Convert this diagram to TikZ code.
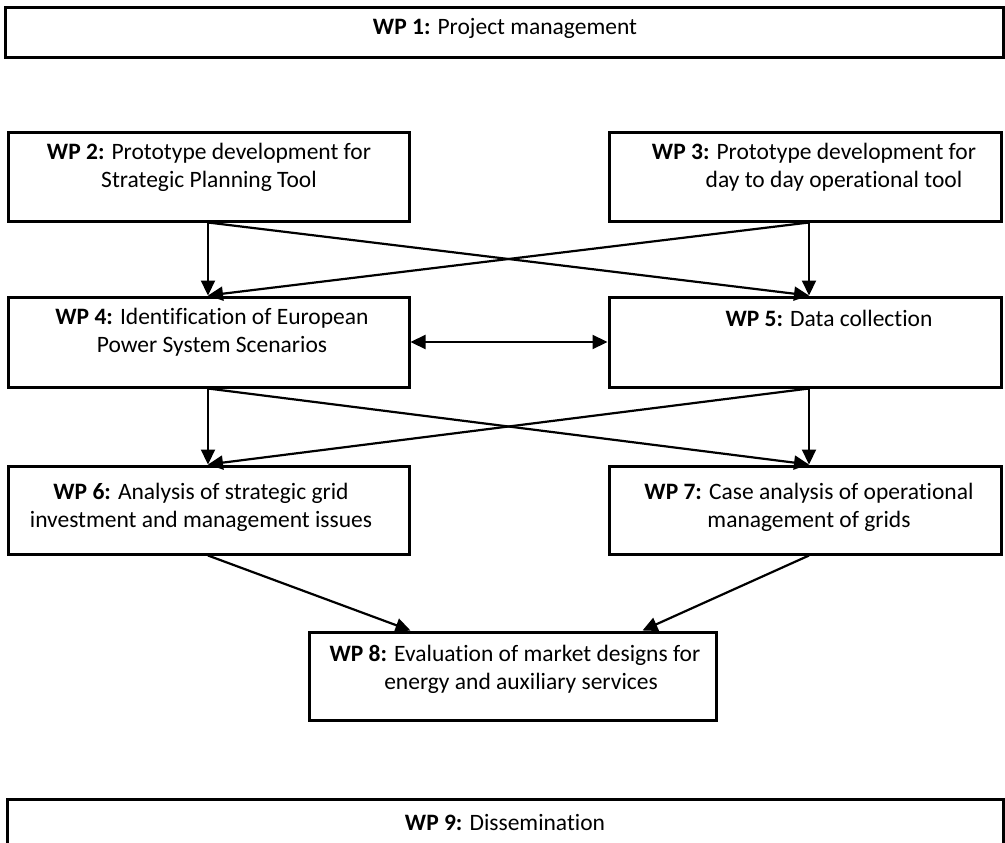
\documentclass[tikz,border=0pt]{standalone}
\usepackage{fontspec}
\setmainfont{Carlito}[Ligatures={NoCommon}]
\usetikzlibrary{arrows.meta}
\begin{document}
\begin{tikzpicture}[x=1pt,y=-1pt,
  box/.style={draw=black, line width=3pt, rectangle, inner sep=0pt},
  txt/.style={align=center, inner sep=0pt, font=\fontsize{23.5}{28}\selectfont},
  conn/.style={line width=2.2pt, -{Triangle[length=15pt,width=14pt]}},
  dconn/.style={line width=2.2pt, {Triangle[length=15pt,width=14pt]}-{Triangle[length=15pt,width=14pt]}}]
\useasboundingbox (0,0) rectangle (1005,843);
\fill[white] (0,0) rectangle (1005,843);
% boxes
\node[box, minimum width=998, minimum height=50] (wp1) at (504,33) {};
\node[box, minimum width=401, minimum height=89] (wp2) at (208.5,176.5) {};
\node[box, minimum width=392, minimum height=89] (wp3) at (805,176.5) {};
\node[box, minimum width=401, minimum height=90] (wp4) at (208.5,342) {};
\node[box, minimum width=392, minimum height=90] (wp5) at (805,342) {};
\node[box, minimum width=401, minimum height=88] (wp6) at (208.5,510) {};
\node[box, minimum width=392, minimum height=88] (wp7) at (805,510) {};
\node[box, minimum width=407, minimum height=88] (wp8) at (512.5,676) {};
\node[box, minimum width=996, minimum height=46] (wp9) at (505,822) {};
% texts
\node[txt] (t1) at (505,28) {\textbf{WP 1:} Project management};
\node[txt] (t2) at (209,167) {\textbf{WP 2:} Prototype development for\\Strategic Planning Tool};
\node[txt] (t3) at (814,167) {\textbf{WP 3:} Prototype development for\\\hspace*{40pt}day to day operational tool};
\node[txt] (t4) at (212,332) {\textbf{WP 4:} Identification of European\\Power System Scenarios};
\node[txt] (t5) at (829,318) {\textbf{WP 5:} Data collection};
\node[txt] (t6) at (201,507) {\textbf{WP 6:} Analysis of strategic grid\\investment and management issues};
\node[txt] (t7) at (809,507) {\textbf{WP 7:} Case analysis of operational\\management of grids};
\node[txt] (t8) at (515,669) {\textbf{WP 8:} Evaluation of market designs for\\\hspace*{12pt}energy and auxiliary services};
\node[txt] (t9) at (505,822) {\textbf{WP 9:} Dissemination};
% anchor points
\coordinate (s2) at ([xshift=-0.5]wp2.south);
\coordinate (s3) at ([xshift=4]wp3.south);
\coordinate (n4) at ([xshift=-0.5]wp4.north);
\coordinate (n5) at ([xshift=4]wp5.north);
\coordinate (s4) at ([xshift=-0.5]wp4.south);
\coordinate (s5) at ([xshift=4]wp5.south);
\coordinate (n6) at ([xshift=-0.5]wp6.north);
\coordinate (n7) at ([xshift=4]wp7.north);
\coordinate (s6) at ([xshift=-0.5]wp6.south);
\coordinate (s7) at ([xshift=4]wp7.south);
\coordinate (n8a) at ([xshift=-102]wp8.north);
\coordinate (n8b) at ([xshift=130]wp8.north);
% connectors
\draw[conn] (s2) -- (n4);
\draw[conn] (s2) -- (n5);
\draw[conn] (s3) -- (n5);
\draw[conn] (s3) -- (n4);
\draw[dconn] (wp4.east) -- (wp5.west);
\draw[conn] (s4) -- (n6);
\draw[conn] (s4) -- (n7);
\draw[conn] (s5) -- (n7);
\draw[conn] (s5) -- (n6);
\draw[conn] (s6) -- (n8a);
\draw[conn] (s7) -- (n8b);
\end{tikzpicture}
\end{document}
